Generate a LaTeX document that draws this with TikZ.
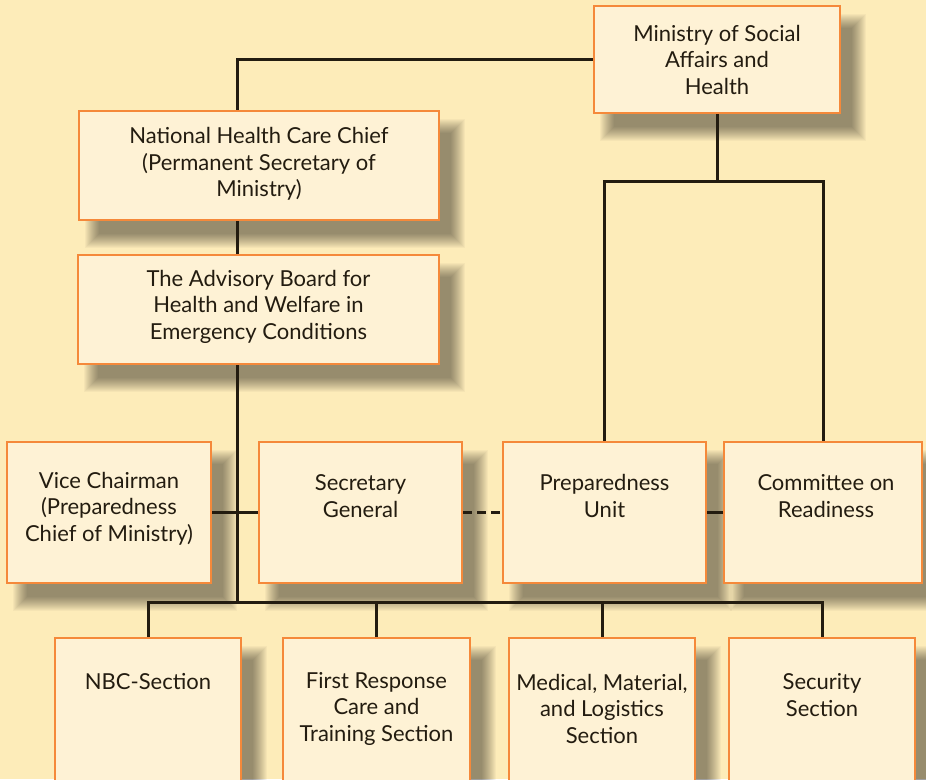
\documentclass[tikz,border=0pt]{standalone}
\usepackage{fontspec}
\setmainfont{Lato}
\definecolor{bg}{HTML}{FDECB9}
\definecolor{boxfill}{HTML}{FEF2D5}
\definecolor{boxorange}{HTML}{F5893A}
\definecolor{ink}{HTML}{231C10}
\pgfdeclarelayer{bglayer}
\pgfdeclarelayer{shadowlayer}
\pgfsetlayers{bglayer,shadowlayer,main}
\begin{document}
\begin{tikzpicture}[x=1pt,y=-1pt,
  box/.style={draw=boxorange, line width=2.6pt, fill=boxfill, inner sep=0pt},
  txt/.style={align=center, font=\fontsize{22}{26.5}\selectfont, text=ink, inner sep=0pt},
  link/.style={draw=ink, line width=3pt},
  dlink/.style={link, dash pattern=on 9pt off 5pt},
  shadowpiece/.style={fill=black, fill opacity=0.03, draw=none}]
\useasboundingbox (0,0) rectangle (926,779);
\begin{pgfonlayer}{bglayer}
\fill[bg] (0,0) rectangle (926,779);
\end{pgfonlayer}
% boxes
\node[box, minimum width=246pt, minimum height=107pt] (min) at (717,59.5) {};
\node[box, minimum width=360pt, minimum height=109pt] (nhc) at (259,165.5) {};
\node[box, minimum width=361pt, minimum height=109pt] (adv) at (258.5,309.5) {};
\node[box, minimum width=204pt, minimum height=141pt] (vc) at (109,512.5) {};
\node[box, minimum width=203pt, minimum height=141pt] (sg) at (360.5,512.5) {};
\node[box, minimum width=203pt, minimum height=141pt] (pu) at (604.5,512.5) {};
\node[box, minimum width=198pt, minimum height=141pt] (cr) at (823,512.5) {};
\node[box, minimum width=186pt, minimum height=172pt] (nbc) at (148,724) {};
\node[box, minimum width=187pt, minimum height=172pt] (fr) at (376.5,724) {};
\node[box, minimum width=186pt, minimum height=172pt] (med) at (602,724) {};
\node[box, minimum width=186pt, minimum height=172pt] (sec) at (822,724) {};
% soft shadows
\begin{pgfonlayer}{shadowlayer}
\foreach \n in {min,nhc,adv,vc,sg,pu,cr,nbc,fr,med,sec}{
  \foreach \d in {-5,-4,...,9}{
    \fill[shadowpiece] ([shift={(16-\d,18-\d)}]\n.north west) rectangle ([shift={(16+\d,18+\d)}]\n.south east);
  }
}
\end{pgfonlayer}
% texts
\node[txt] (tmin) at (717,59.5) {Ministry of Social\\Affairs and\\Health};
\node[txt] (tnhc) at (259,164) {National Health Care Chief\\(Permanent Secretary of\\Ministry)};
\node[txt] (tadv) at (258.5,306.5) {The Advisory Board for\\Health and Welfare in\\Emergency Conditions};
\node[txt] (tvc) at (109,508.5) {Vice Chairman\\(Preparedness\\Chief of Ministry)};
\node[txt] (tsg) at (360.5,496) {Secretary\\General};
\node[txt] (tpu) at (604.5,496) {Preparedness\\Unit};
\node[txt] (tcr) at (826,496) {Committee on\\Readiness};
\node[txt] (tnbc) at (148,682) {NBC-Section};
\node[txt] (tfr) at (376.5,708.5) {First Response\\Care and\\Training Section};
\node[txt] (tmed) at (602,708.5) {Medical, Material,\\and Logistics\\Section};
\node[txt] (tsec) at (822,695) {Security\\Section};
% connector coordinates
\coordinate (sp) at (237,0);
\coordinate (fork) at (0,181);
\coordinate (bus) at (0,602);
% connectors
\draw[link] (min.west) -| (sp |- nhc.north);
\draw[link] (sp |- nhc.south) -- (sp |- adv.north);
\draw[link] (sp |- adv.south) -- (sp |- bus);
\draw[link] (min.south) -- (min.south |- fork);
\draw[link] (pu.north) |- (cr.north |- fork) -- (cr.north);
\draw[link] (vc.east) -- (sg.west);
\draw[dlink] (sg.east) -- (pu.west);
\draw[link] (pu.east) -- (cr.west);
\draw[link] (nbc.north) |- (sec.north |- bus) -- (sec.north);
\draw[link] (fr.north) -- (fr.north |- bus);
\draw[link] (med.north) -- (med.north |- bus);
\end{tikzpicture}
\end{document}
